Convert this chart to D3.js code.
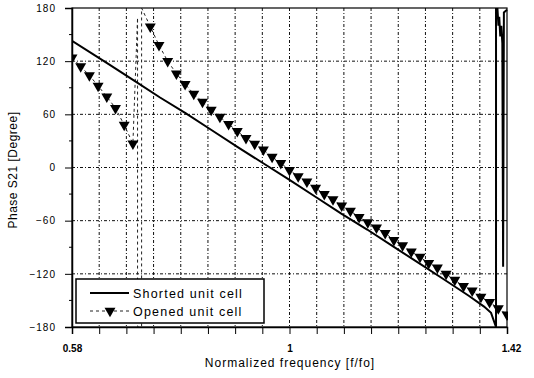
<!DOCTYPE html>
<html><head><meta charset="utf-8">
<script src="https://cdn.jsdelivr.net/npm/d3@7"></script>
<style>body{margin:0;background:#fff}</style>
</head><body><svg id="c" width="534" height="378"></svg>
<script>
// ---- data ----
const shortedFreq  = [0.58, 0.65, 0.70, 0.75, 0.80, 0.85, 0.90, 0.95, 1.00, 1.05, 1.10, 1.15, 1.20, 1.25, 1.30, 1.3468, 1.3757, 1.3892, 1.3988, 1.3988, 1.4015, 1.4035, 1.405, 1.407, 1.409, 1.411, 1.4125, 1.4140, 1.42];
const shortedPhase = [143, 117, 98, 79, 61, 42, 23, 4.5, -14, -33, -52, -70, -89, -108, -127, -145, -157, -164, -180, 180, 180, 160, 170, 148, 160, 140, -112, 175, 178];

const openedFreq = [0.58, 0.5968, 0.6136, 0.6304, 0.6472, 0.664, 0.6808, 0.6976, 0.7144, 0.7312,
  0.748, 0.7648, 0.7816, 0.7984, 0.8152, 0.832, 0.8488, 0.8656, 0.8824, 0.8992,
  0.916, 0.9328, 0.9496, 0.9664, 0.9832, 1.0, 1.0168, 1.0336, 1.0504, 1.0672,
  1.084, 1.1008, 1.1176, 1.1344, 1.1512, 1.168, 1.1848, 1.2016, 1.2184, 1.2352,
  1.252, 1.2688, 1.2856, 1.3024, 1.3192, 1.336, 1.3528, 1.3696, 1.3864, 1.4032, 1.42];
const openedPhase = [124, 114, 104, 92, 80, 67, 48, 27, -184, 159,
  138, 120, 106, 94, 83, 74, 65, 57, 49, 41,
  33, 26.5, 20, 12, 5, -3, -10, -16, -23, -30,
  -36, -43, -49, -56, -62, -68, -74, -82, -88, -95,
  -101, -108, -113, -120, -127, -134, -139, -146, -152, -159, -166];
// extra vertices of the dashed line around the resonance (phase wrap)
const resonanceInFreq  = [0.7066, 0.7066];
const resonanceInPhase = [169, -180];
const resonanceOutFreq  = [0.7144, 0.7144];
const resonanceOutPhase = [-180, 180];

const xTickValues = [0.58, 1, 1.42];
const xTickLabels = ["0.58", "1", "1.42"];
const yTickValues = [180, 120, 60, 0, -60, -120, -180];
const seriesNames = ["Shorted unit cell", "Opened unit cell"];

// ---- layout ----
const svg = d3.select("#c");
const L = 72, R = 507, T = 8, B = 327;
const x = d3.scaleLinear().domain([0.58, 1.42]).range([L, R]);
const y = d3.scaleLinear().domain([-180, 180]).range([B, T]);
const font = "'Liberation Sans', Arial, sans-serif";

svg.append("rect").attr("width", 534).attr("height", 378).attr("fill", "#fff");

// grid
const xGrid = d3.range(17).map(i => 0.58 + i * 0.84 / 16);
const g = svg.append("g");
g.selectAll("line.vg").data(xGrid.slice(1, 16)).join("line")
  .attr("x1", d => x(d)).attr("x2", d => x(d)).attr("y1", T).attr("y2", B)
  .attr("stroke", "#111").attr("stroke-width", 1).attr("stroke-dasharray", "3,2,1,2");
g.selectAll("line.hg").data(yTickValues.slice(1, 6)).join("line")
  .attr("y1", d => y(d)).attr("y2", d => y(d)).attr("x1", L).attr("x2", R)
  .attr("stroke", "#111").attr("stroke-width", 1).attr("stroke-dasharray", "3,2,1,2");

// frame
svg.append("rect").attr("x", L).attr("y", T).attr("width", R - L).attr("height", B - T)
  .attr("fill", "none").attr("stroke", "#000").attr("stroke-width", 1.2);

// axes
const xAxis = d3.axisBottom(x).tickValues(xGrid).tickSize(7).tickFormat(d => {
  const k = xTickValues.findIndex(v => Math.abs(v - d) < 1e-6);
  return k >= 0 ? xTickLabels[k] : "";
});
const xa = svg.append("g").attr("transform", `translate(0,${B})`).call(xAxis);
xa.select(".domain").attr("stroke-width", 1.5);
xa.selectAll("text").attr("font-family", font).attr("font-size", 10).attr("font-weight", "bold")
  .attr("fill", "#000").attr("dy", "1.5em");
xa.selectAll(".tick text").filter(d => Math.abs(d - 1.42) < 1e-6).attr("dx", 4);

const yAxis = d3.axisLeft(y).tickValues(yTickValues).tickSize(7).tickPadding(9).tickFormat(d3.format("d"));
const ya = svg.append("g").attr("transform", `translate(${L},0)`).call(yAxis);
ya.select(".domain").attr("stroke-width", 1.5);
ya.selectAll("text").attr("font-family", font).attr("font-size", 10).attr("letter-spacing", "1px").attr("fill", "#000");
// minor y ticks
svg.append("g").selectAll("line").data(d3.range(-150, 180, 60)).join("line")
  .attr("x1", L - 3).attr("x2", L).attr("y1", d => y(d)).attr("y2", d => y(d)).attr("stroke", "#000");

// clip
svg.append("clipPath").attr("id", "clip").append("rect")
  .attr("x", L).attr("y", T).attr("width", R - L + 1).attr("height", B - T);
const plot = svg.append("g").attr("clip-path", "url(#clip)");

const line = d3.line().x(d => x(d[0])).y(d => y(d[1]));

// opened dashed line
const openedLine = [
  ...openedFreq.slice(0, 8).map((f, i) => [f, openedPhase[i]]),
  ...resonanceInFreq.map((f, i) => [f, resonanceInPhase[i]]),
  ...resonanceOutFreq.map((f, i) => [f, resonanceOutPhase[i]]),
  ...openedFreq.slice(9).map((f, i) => [f, openedPhase[i + 9]])
];
plot.append("path").datum(openedLine).attr("d", line).attr("fill", "none")
  .attr("stroke", "#222").attr("stroke-width", 1).attr("stroke-dasharray", "3,3");

// shorted solid line
plot.append("path").datum(shortedFreq.map((f, i) => [f, shortedPhase[i]])).attr("d", line)
  .attr("fill", "none").attr("stroke", "#000").attr("stroke-width", 2);

// markers
const tri = d3.symbol().type(d3.symbolTriangle).size(52);
plot.selectAll("path.m").data(openedFreq.map((f, i) => [f, openedPhase[i]])).join("path")
  .attr("d", tri).attr("transform", d => `translate(${x(d[0])},${y(d[1])}) rotate(180)`).attr("fill", "#000");

// legend
const lg = svg.append("g");
lg.append("rect").attr("x", 76).attr("y", 279).attr("width", 188).attr("height", 44)
  .attr("fill", "#fff").attr("stroke", "#000").attr("stroke-width", 1.5);
lg.append("line").attr("x1", 90).attr("x2", 129).attr("y1", 293).attr("y2", 293).attr("stroke", "#000").attr("stroke-width", 2);
lg.append("line").attr("x1", 90).attr("x2", 129).attr("y1", 311).attr("y2", 311).attr("stroke", "#222").attr("stroke-width", 1).attr("stroke-dasharray", "3,3");
lg.append("path").attr("d", tri).attr("transform", "translate(110,311) rotate(180)").attr("fill", "#000");
lg.selectAll("text").data(seriesNames).join("text")
  .attr("x", 133).attr("y", (d, i) => 298 + i * 18).text(d => d)
  .attr("font-family", font).attr("font-size", 12.5).attr("letter-spacing", "1.2px").attr("fill", "#000");

// axis titles
svg.append("text").attr("x", 290).attr("y", 367).attr("text-anchor", "middle")
  .attr("font-family", font).attr("font-size", 12).attr("letter-spacing", "1px").text("Normalized frequency [f/fo]");
svg.append("text").attr("transform", "translate(17,170) rotate(-90)").attr("text-anchor", "middle")
  .attr("font-family", font).attr("font-size", 12).attr("letter-spacing", "0.5px").text("Phase S21 [Degree]");
</script></body></html>
